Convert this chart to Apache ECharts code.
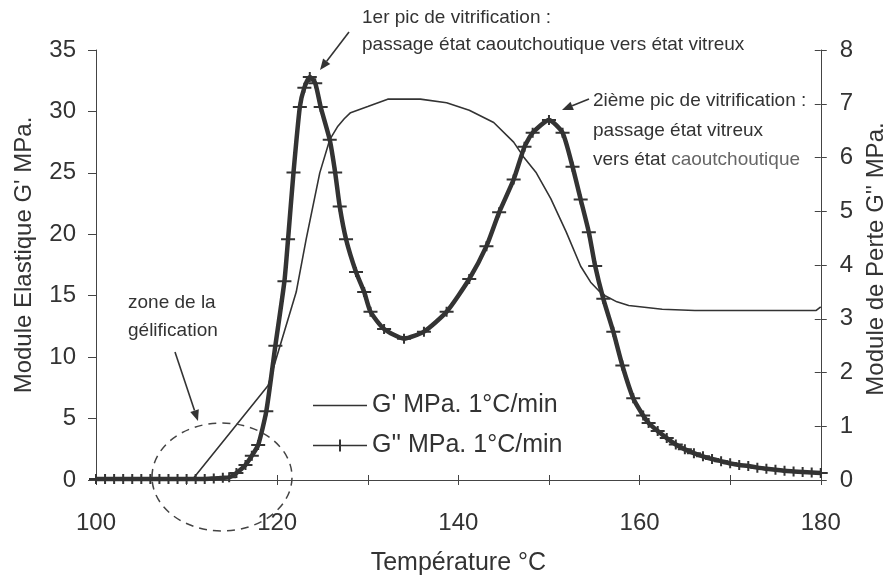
<!DOCTYPE html>
<html><head><meta charset="utf-8">
<script src="https://cdn.jsdelivr.net/npm/echarts@6/dist/echarts.min.js"></script>
<style>html,body{margin:0;padding:0;background:#fff}#c{width:896px;height:581px}</style>
</head><body><div id="c"></div>
<script>
// G' (module élastique, axe gauche)
const gPrimeTemp = [100, 105, 110.6, 119.0, 122.1, 123.2, 124.7, 125.8, 126.7, 127.4, 128.1, 130.0, 132.2, 135.8, 138.7, 141.2, 143.9, 146.1, 147.2, 148.6, 150.2, 151.9, 153.5, 154.6, 155.5, 156.2, 157.5, 158.8, 162.5, 166.1, 170, 175, 179.5, 180];
const gPrimeVal  = [0, 0, 0, 7.7, 15.3, 19.6, 25.0, 27.7, 28.8, 29.4, 29.9, 30.4, 31.0, 31.0, 30.7, 30.1, 29.1, 27.5, 26.3, 25.0, 22.9, 20.2, 17.4, 16.1, 15.4, 15.0, 14.5, 14.2, 13.9, 13.8, 13.8, 13.8, 13.8, 14.1];
// G'' (module de perte, axe droit)
const gSecTemp = [100,101,102,103,104,105,106,107,108,109,110,111,112,113,114,114.7,115.5,116.5,117.2,117.9,118.8,119.8,120.8,121.2,121.8,122.5,123.0,123.6,124.2,124.8,125.8,126.4,126.9,127.6,128.7,129.6,130.3,131.8,134.0,136.2,138.7,141.2,143.1,144.5,146.1,147.3,148.2,150.0,151.5,152.6,153.5,154.4,155.1,156.0,157.1,158.1,159.3,160.4,161,162,163,164,165,166,167,168,169,170,171,172,173,174,175,176,177,178,179,180];
const gSecVal  = [0.02,0.02,0.02,0.02,0.02,0.02,0.02,0.02,0.02,0.02,0.02,0.02,0.02,0.03,0.04,0.05,0.13,0.28,0.45,0.65,1.28,2.5,3.7,4.48,5.72,6.94,7.3,7.5,7.38,6.94,6.33,5.72,5.09,4.48,3.87,3.5,3.13,2.81,2.63,2.76,3.13,3.74,4.35,4.98,5.59,6.2,6.46,6.7,6.46,5.83,5.22,4.61,3.98,3.37,2.76,2.13,1.52,1.2,1.06,0.91,0.78,0.66,0.57,0.5,0.44,0.39,0.35,0.31,0.28,0.26,0.23,0.21,0.19,0.17,0.16,0.15,0.14,0.13];

const seriesNames = ["G' MPa. 1°C/min", "G'' MPa. 1°C/min"];
const xLabelStep = 20;

const FONT = 'Liberation Sans, Arial, sans-serif';
const TXT = '#333';
const AX = '#444';
const plusPath = 'path://M0,4H14V6H0Z M6,0H8V10H6Z';

const chart = echarts.init(document.getElementById('c'));

function arrow(x1, y1, x2, y2) {
  const a = Math.atan2(y2 - y1, x2 - x1);
  const L = 11, W = 4.5;
  const bx = x2 - L * Math.cos(a), by = y2 - L * Math.sin(a);
  const px = -Math.sin(a) * W, py = Math.cos(a) * W;
  return [
    { type: 'line', z: 50, shape: { x1: x1, y1: y1, x2: bx, y2: by }, style: { stroke: '#333', lineWidth: 1.6 } },
    { type: 'polygon', z: 50, shape: { points: [[x2, y2], [bx + px, by + py], [bx - px, by - py]] }, style: { fill: '#333' } }
  ];
}
function txt(x, y, s, size) {
  return { type: 'text', z: 50, x: x, y: y, style: { text: s, fill: TXT, font: size + 'px ' + FONT, textVerticalAlign: 'middle' } };
}

const annoSize = 19;
const graphics = [].concat(
  [txt(362, 18, '1er pic de vitrification :', annoSize),
   txt(362, 45, 'passage état caoutchoutique vers état vitreux', annoSize),
   txt(593, 101, '2ième pic de vitrification :', annoSize),
   txt(593, 131, 'passage état vitreux', annoSize),
   { type: 'text', z: 50, x: 593, y: 160, style: { text: 'vers état {g|caoutchoutique}', fill: TXT, font: annoSize + 'px ' + FONT, textVerticalAlign: 'middle', rich: { g: { fill: '#666', fontSize: annoSize, fontFamily: FONT } } } },
   txt(128, 303, 'zone de la', 19),
   txt(128, 331, 'gélification', 19),
   { type: 'ellipse', z: 40, shape: { cx: 222, cy: 477, rx: 70, ry: 54 }, style: { fill: 'none', stroke: '#444', lineWidth: 1.5, lineDash: [8, 6] } }
  ],
  arrow(349, 32, 320, 70),
  arrow(589, 99, 562, 110),
  arrow(175, 352, 198, 421)
);

const baseX = { type: 'value', min: 100, max: 180, interval: 10, splitLine: { show: false } };
const option = {
  animation: false,
  backgroundColor: '#fff',
  textStyle: { fontFamily: FONT },
  grid: { left: 96, right: 69, top: 50, bottom: 99, containLabel: false },
  legend: {
    orient: 'vertical', left: 308, top: 388, itemWidth: 54, itemHeight: 12, itemGap: 15,
    textStyle: { fontSize: 25, color: TXT, fontFamily: FONT },
    data: [
      { name: seriesNames[0], icon: 'path://M0,5.2H54V6.8H0Z' },
      { name: seriesNames[1], icon: 'path://M0,5.2H54V6.8H0Z M26,0H28V12H26Z' }
    ]
  },
  xAxis: [
    Object.assign({}, baseX, {
      position: 'bottom',
      axisLine: { show: true, lineStyle: { color: AX, width: 1 } },
      axisTick: { show: true, length: 5, lineStyle: { color: AX } },
      axisLabel: { fontSize: 24, color: TXT, margin: 31, fontFamily: FONT, formatter: v => (v % xLabelStep === 0 ? String(v) : '') },
      name: 'Température °C', nameLocation: 'middle', nameGap: 71,
      nameTextStyle: { fontSize: 25, color: TXT, fontFamily: FONT }
    }),
    Object.assign({}, baseX, {
      position: 'bottom',
      axisLine: { show: false }, axisLabel: { show: false },
      axisTick: { show: true, inside: true, length: 5, lineStyle: { color: AX } }
    })
  ],
  yAxis: [
    { type: 'value', position: 'left', min: 0, max: 35, interval: 5, splitLine: { show: false },
      axisLine: { show: true, lineStyle: { color: AX } },
      axisTick: { show: true, length: 8, lineStyle: { color: AX } },
      axisLabel: { fontSize: 24, color: TXT, margin: 20, fontFamily: FONT },
      name: "Module Elastique G' MPa.", nameLocation: 'middle', nameRotate: 90, nameGap: 60,
      nameTextStyle: { fontSize: 24, color: TXT, fontFamily: FONT, padding: [0, 0, 0, 20] } },
    { type: 'value', position: 'right', min: 0, max: 8, interval: 1, splitLine: { show: false },
      axisLine: { show: true, lineStyle: { color: AX } },
      axisTick: { show: true, length: 6, lineStyle: { color: AX } },
      axisLabel: { fontSize: 24, color: TXT, margin: 19, fontFamily: FONT },
      name: "Module de Perte G'' MPa.", nameLocation: 'middle', nameRotate: 90, nameGap: 42,
      nameTextStyle: { fontSize: 24, color: TXT, fontFamily: FONT, padding: [0, 0, 0, 12] } },
    { type: 'value', position: 'right', min: 0, max: 8, interval: 1, splitLine: { show: false },
      axisLine: { show: false }, axisLabel: { show: false },
      axisTick: { show: true, inside: true, length: 6, lineStyle: { color: AX } } }
  ],
  series: [
    { name: seriesNames[0], type: 'line', xAxisIndex: 0, yAxisIndex: 0, symbol: 'none', smooth: false,
      lineStyle: { color: '#333', width: 1.6 }, itemStyle: { color: '#333' },
      data: gPrimeTemp.map((t, i) => [t, gPrimeVal[i]]) },
    { name: seriesNames[1], type: 'line', xAxisIndex: 0, yAxisIndex: 1, symbol: plusPath, symbolSize: [14, 10],
      showAllSymbol: true, smooth: 0.2,
      lineStyle: { color: '#333', width: 4.5 }, itemStyle: { color: '#333' },
      data: gSecTemp.map((t, i) => [t, gSecVal[i]]) }
  ],
  graphic: graphics
};
chart.setOption(option);
</script>
</body></html>
